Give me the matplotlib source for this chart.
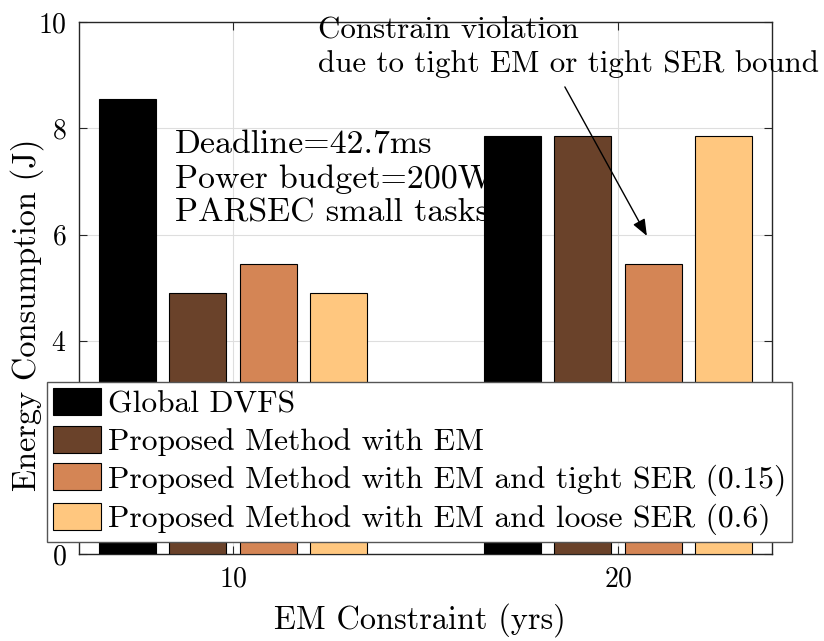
import matplotlib
matplotlib.use("Agg")
import matplotlib.pyplot as plt
import numpy as np

plt.rcParams["font.family"] = "serif"
plt.rcParams["font.serif"] = ["cmr10"]
plt.rcParams["axes.formatter.use_mathtext"] = True

# energy per method, one value per EM constraint
em_years = [10, 20]
methods = [
    "Global DVFS",
    "Proposed Method with EM",
    "Proposed Method with EM and tight SER (0.15)",
    "Proposed Method with EM and loose SER (0.6)",
]
energy = [
    [8.55, 7.86],
    [4.90, 7.86],
    [5.46, 5.46],
    [4.90, 7.86],
]

# copper(4) colormap, as in the original figure
colors = ["#000000", "#6A422A", "#D48555", "#FFC77F"]

fig = plt.figure(figsize=(8.24, 6.41), dpi=100)
ax = fig.add_axes([79 / 824, 87 / 641, 693 / 824, 532 / 641])

offsets = [-2.73, -0.91, 0.91, 2.73]
width = 1.48
x = np.array(em_years, dtype=float)
for vals, off, c, name in zip(energy, offsets, colors, methods):
    ax.bar(x + off, vals, width, color=c, edgecolor="black",
           linewidth=0.8, label=name, zorder=3)

ax.set_xlim(6, 24)
ax.set_ylim(0, 10)
ax.set_xticks(em_years)
ax.set_yticks(np.arange(0, 11, 2))
ax.grid(True, color="#DEDEDE", linewidth=0.8, zorder=0)
ax.set_axisbelow(True)
ax.tick_params(direction="in", length=6, top=True, right=True,
               labelsize=20, color="#262626", pad=9)
for s in ax.spines.values():
    s.set_color("#262626")
    s.set_linewidth(1.0)

ax.set_xlabel("EM Constraint (yrs)", fontsize=23.3)
ax.set_ylabel("Energy Consumption (J)", fontsize=23.3)
ax.xaxis.set_label_coords(0.492, -0.092)
ax.yaxis.set_label_coords(-0.05, 0.45)

# settings box sits under the bars
ax.text(8.49, 7.05, "Deadline=42.7ms\nPower budget=200W\nPARSEC small tasks",
        fontsize=24.4, va="center", ha="left", zorder=1, linespacing=1.2)

fig.text(318 / 824, 1 - 17 / 641,
         "Constrain violation\ndue to tight EM or tight SER bound",
         fontsize=22.3, va="top", ha="left", linespacing=1.22)
ax.annotate("", xy=(20.75, 5.98), xytext=(18.62, 8.78),
            arrowprops=dict(arrowstyle="-|>,head_length=1.0,head_width=0.4",
                            mutation_scale=10, color="black", lw=1,
                            shrinkA=0, shrinkB=0),
            annotation_clip=False, zorder=6)

leg = ax.legend(loc="upper left", bbox_to_anchor=(47 / 824, 1 - 382 / 641),
                bbox_transform=fig.transFigure, borderaxespad=0,
                fontsize=22.7, fancybox=False, framealpha=1,
                handlelength=1.5, handleheight=0.95, handletextpad=0.22,
                labelspacing=0.22, borderpad=0.2)
leg.get_frame().set_edgecolor("#555555")
leg.get_frame().set_linewidth(1.0)
leg.set_zorder(10)

fig.savefig("out.png", dpi=100, facecolor="white")
